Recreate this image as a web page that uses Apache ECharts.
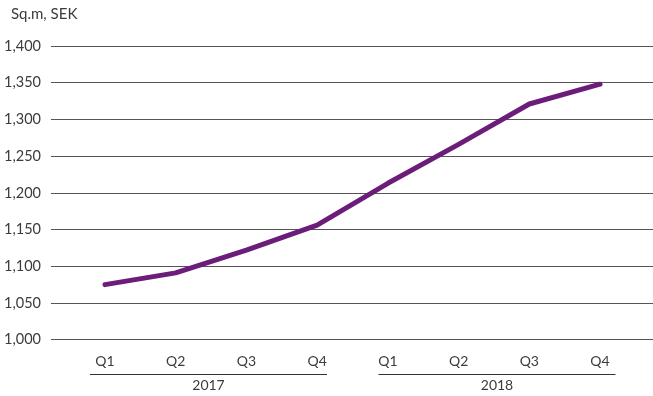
<!DOCTYPE html>
<html>
<head>
<meta charset="utf-8">
<script src="https://cdn.jsdelivr.net/npm/echarts@6/dist/echarts.min.js"></script>
<style>
  html, body { margin: 0; padding: 0; background: #ffffff; }
  #chart { width: 653px; height: 396px; }
</style>
</head>
<body>
<div id="chart"></div>
<script>
// Rent level per quarter, SEK per sq.m
const quarters = ['Q1', 'Q2', 'Q3', 'Q4', 'Q1', 'Q2', 'Q3', 'Q4'];
const years = ['2017', '2018'];
const rentPerSqm = [1075, 1091, 1122, 1156, 1213, 1266, 1321, 1348];
const yMin = 1000;
const yMax = 1400;
const yStep = 50;

const textColor = '#3c3c3c';
const fontFamily = 'Lato, "Open Sans", sans-serif';

const chart = echarts.init(document.getElementById('chart'), null, { renderer: 'canvas' });

const plotTop = 46;
const plotBottom = 56.3;

chart.setOption({
  animation: false,
  backgroundColor: '#ffffff',
  title: {
    text: 'Sq.m, SEK',
    left: 6,
    top: 2,
    textStyle: { color: textColor, fontSize: 15, fontWeight: 'normal', fontFamily: fontFamily }
  },
  grid: [
    // full-width grid carrying the horizontal gridlines and value labels
    { left: 51, right: 0, top: plotTop, bottom: plotBottom },
    // inner grid where the quarters are laid out
    { left: 69.6, right: 17.6, top: plotTop, bottom: plotBottom },
    // grid holding the year group labels
    { left: 64.25, right: 11.75, top: plotTop, bottom: plotBottom }
  ],
  xAxis: [
    {
      type: 'category',
      gridIndex: 1,
      data: quarters,
      boundaryGap: true,
      axisLine: { show: false },
      axisTick: { show: false },
      axisLabel: { color: textColor, fontSize: 14, fontFamily: fontFamily, margin: 15 }
    },
    {
      type: 'category',
      gridIndex: 2,
      data: years,
      position: 'bottom',
      offset: 30,
      axisLine: { show: false },
      axisTick: { show: false },
      axisLabel: { color: textColor, fontSize: 14, fontFamily: fontFamily, margin: 9 }
    },
    {
      type: 'category',
      gridIndex: 0,
      data: quarters,
      show: false
    }
  ],
  yAxis: [
    {
      type: 'value',
      gridIndex: 0,
      min: yMin,
      max: yMax,
      interval: yStep,
      axisLine: { show: false },
      axisTick: { show: false },
      axisLabel: {
        color: textColor,
        fontSize: 14.5,
        fontFamily: fontFamily,
        margin: 10,
        formatter: v => v.toLocaleString('en-US')
      },
      splitLine: { show: true, lineStyle: { color: '#555555', width: 1 } }
    },
    {
      type: 'value',
      gridIndex: 1,
      min: yMin,
      max: yMax,
      interval: yStep,
      show: false,
      splitLine: { show: false }
    },
    {
      type: 'value',
      gridIndex: 2,
      min: yMin,
      max: yMax,
      interval: yStep,
      show: false,
      splitLine: { show: false }
    }
  ],
  series: [
    {
      type: 'line',
      xAxisIndex: 0,
      yAxisIndex: 1,
      data: rentPerSqm,
      symbol: 'none',
      smooth: false,
      lineStyle: { color: '#6c1d7a', width: 5, cap: 'round', join: 'round' }
    }
  ]
});

// underline each year's group of quarter labels, centred on the year label
const underlineY = 374.5;
const halfWidth = 118.5;
const lines = years.map((y, i) => {
  const cx = chart.convertToPixel({ xAxisIndex: 1 }, i);
  return {
    type: 'line',
    shape: { x1: cx - halfWidth, y1: underlineY, x2: cx + halfWidth, y2: underlineY },
    style: { stroke: '#333333', lineWidth: 1 }
  };
});
chart.setOption({ graphic: lines });
</script>
</body>
</html>
